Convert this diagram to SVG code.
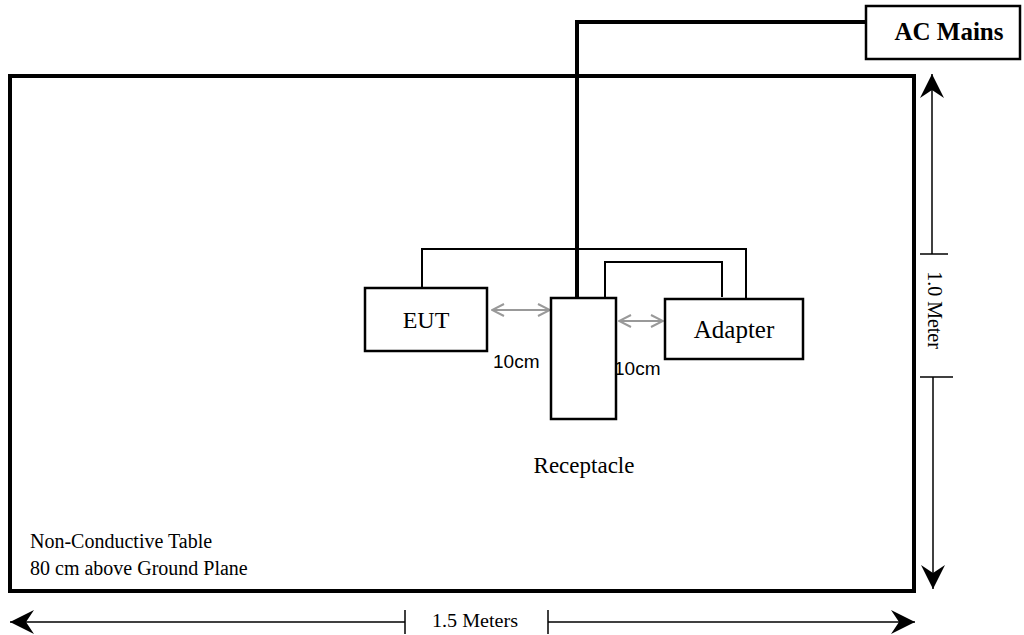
<svg xmlns="http://www.w3.org/2000/svg" width="1024" height="635" viewBox="0 0 1024 635">
  <style>
    .box { fill: #ffffff; stroke: #000000; stroke-width: 2.5; }
    .serif { font-family: "Liberation Serif", "Times New Roman", serif; fill: #000000; }
    .sans { font-family: "Liberation Sans", Arial, sans-serif; fill: #000000; }
    .wire { fill: none; stroke: #000000; stroke-width: 2; stroke-linejoin: miter; }
    .thick { fill: none; stroke: #000000; stroke-width: 4; stroke-linejoin: miter; }
    .dim { fill: none; stroke: #000000; stroke-width: 1.5; }
    .gap { fill: none; stroke: #999999; stroke-width: 2; }
  </style>
  <defs>
    <marker id="dimhead" markerUnits="userSpaceOnUse" viewBox="0 -12 24 24" refX="24" refY="0" markerWidth="24" markerHeight="24" orient="auto-start-reverse">
      <path d="M0,-12 L24,0 L0,12 L8,0 Z" fill="#000000"/>
    </marker>
    <marker id="grayhead" markerUnits="userSpaceOnUse" viewBox="0 -7 14 14" refX="13" refY="0" markerWidth="14" markerHeight="14" orient="auto-start-reverse">
      <path d="M1,-6 L13,0 L1,6" fill="none" stroke="#999999" stroke-width="2"/>
    </marker>
  </defs>

  <g id="table">
    <rect x="10" y="76" width="904" height="515" fill="#ffffff" stroke="#000000" stroke-width="4"/>
    <text class="serif" x="30" y="548" font-size="20">Non-Conductive Table</text>
    <text class="serif" x="30" y="575" font-size="20">80 cm above Ground Plane</text>
  </g>

  <g id="connectors">
    <path class="thick" d="M577,298 V22 H866"/>
    <path class="wire" d="M422,288 V249 H746 V299"/>
    <path class="wire" d="M605,298 V262 H722 V297"/>
    <line class="gap" x1="492" y1="310" x2="550" y2="310" marker-start="url(#grayhead)" marker-end="url(#grayhead)"/>
    <line class="gap" x1="619" y1="321" x2="663" y2="321" marker-start="url(#grayhead)" marker-end="url(#grayhead)"/>
  </g>

  <g id="ac-mains">
    <rect class="box" x="866" y="6" width="154" height="53"/>
    <text class="serif" x="949" y="40" font-size="25" font-weight="bold" text-anchor="middle">AC Mains</text>
  </g>

  <g id="eut">
    <rect class="box" x="365" y="288" width="122" height="63"/>
    <text class="serif" x="426" y="328" font-size="24" text-anchor="middle">EUT</text>
  </g>

  <g id="receptacle">
    <rect class="box" x="551" y="298" width="65" height="121"/>
    <text class="serif" x="584" y="473" font-size="23" text-anchor="middle">Receptacle</text>
  </g>

  <g id="adapter">
    <rect class="box" x="665" y="299" width="138" height="60"/>
    <text class="serif" x="734" y="338" font-size="25" text-anchor="middle">Adapter</text>
  </g>

  <g id="labels">
    <text class="sans" x="493" y="368" font-size="19">10cm</text>
    <text class="sans" x="614" y="375" font-size="19">10cm</text>
  </g>

  <g id="dimensions">
    <line class="dim" x1="932" y1="254" x2="932" y2="74" marker-end="url(#dimhead)"/>
    <line class="dim" x1="920" y1="254" x2="948" y2="254"/>
    <text class="serif" font-size="20" transform="translate(928,310) rotate(90)" text-anchor="middle">1.0 Meter</text>
    <line class="dim" x1="920" y1="377" x2="953" y2="377"/>
    <line class="dim" x1="933" y1="377" x2="933" y2="589" marker-end="url(#dimhead)"/>

    <line class="dim" x1="405" y1="622" x2="10" y2="622" marker-end="url(#dimhead)"/>
    <line class="dim" x1="405" y1="610" x2="405" y2="634"/>
    <text class="serif" x="475" y="627" font-size="19" text-anchor="middle" textLength="86" lengthAdjust="spacingAndGlyphs">1.5 Meters</text>
    <line class="dim" x1="548" y1="610" x2="548" y2="634"/>
    <line class="dim" x1="548" y1="622" x2="915" y2="622" marker-end="url(#dimhead)"/>
  </g>
</svg>
